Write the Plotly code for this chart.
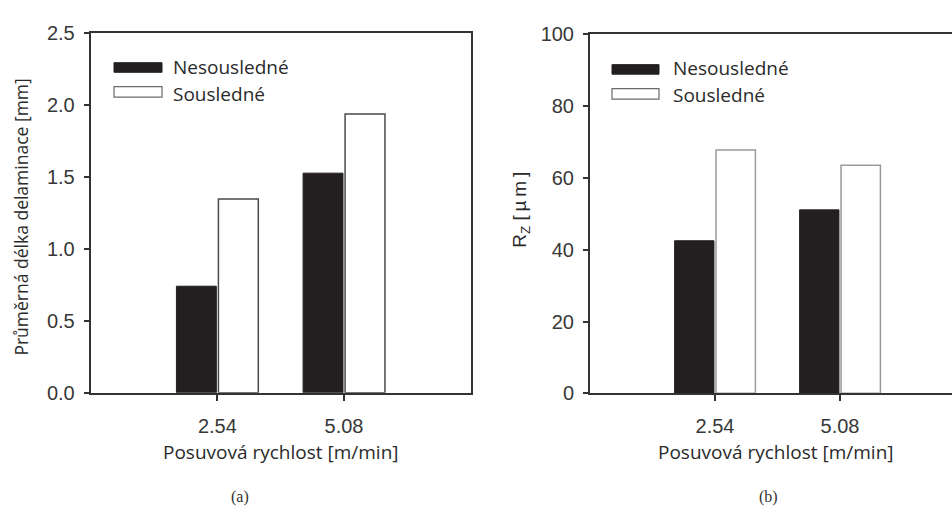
import plotly.graph_objects as go

# ---- data ----
speeds = ["2.54", "5.08"]
series_names = ["Nesousledné", "Sousledné"]
delam_nes = [0.74, 1.525]
delam_sous = [1.345, 1.935]
rz_nes = [42.5, 51.1]
rz_sous = [67.8, 63.5]
yticks_a = [0.0, 0.5, 1.0, 1.5, 2.0, 2.5]
yticks_b = [0, 20, 40, 60, 80, 100]

W, H = 952, 519
def px(x): return x / W
def py(y): return 1 - y / H

DARK = "#231f20"
AX = "#333333"
TICKFONT = dict(family="Liberation Sans, Arial, sans-serif", size=20, color="#383838")
TXTFONT = dict(family="Open Sans, Noto Sans, sans-serif", size=19, color="#2a2a2a")
YTFONT = dict(family="Open Sans, Noto Sans, sans-serif", size=17.5, color="#2a2a2a")

fig = go.Figure()
fig.add_trace(go.Bar(x=speeds, y=delam_nes, name=series_names[0], xaxis="x", yaxis="y",
                     marker=dict(color=DARK, line=dict(color=DARK, width=1)), showlegend=False))
fig.add_trace(go.Bar(x=speeds, y=delam_sous, name=series_names[1], xaxis="x", yaxis="y",
                     marker=dict(color="white", line=dict(color="#4a4a4a", width=1.5)), showlegend=False))
fig.add_trace(go.Bar(x=speeds, y=rz_nes, name=series_names[0], xaxis="x2", yaxis="y2",
                     marker=dict(color=DARK, line=dict(color=DARK, width=1)), showlegend=False))
fig.add_trace(go.Bar(x=speeds, y=rz_sous, name=series_names[1], xaxis="x2", yaxis="y2",
                     marker=dict(color="white", line=dict(color="#9a9a9a", width=1.5)), showlegend=False))

common_x = dict(type="category", showline=True, linecolor=AX, linewidth=2, mirror=True,
                ticks="outside", ticklen=6, tickcolor=AX, tickwidth=1.5,
                tickfont=TICKFONT, showgrid=False, zeroline=False, ticklabelstandoff=8)
common_y = dict(showline=True, linecolor=AX, linewidth=2,
                ticks="outside", ticklen=5, tickcolor=AX, tickwidth=1.5,
                tickfont=TICKFONT, showgrid=False, zeroline=False, ticklabelstandoff=5)

fig.update_layout(
    width=W, height=H,
    margin=dict(l=0, r=0, t=0, b=0),
    paper_bgcolor="white", plot_bgcolor="white",
    barmode="group", bargap=0.337, bargroupgap=0.05,
    xaxis=dict(common_x, domain=[px(90.7), px(470.7)], range=[-1, 2], anchor="y"),
    yaxis=dict(common_y, domain=[py(398.7), py(22.7)], range=[0, 2.5], tickvals=yticks_a,
               ticktext=[f"{v:.1f}" for v in yticks_a], mirror=True, anchor="x"),
    xaxis2=dict(common_x, domain=[px(590), 1.0], range=[-1, 1.896], anchor="y2"),
    yaxis2=dict(common_y, domain=[py(399.3), py(24.3)], range=[0, 100], tickvals=yticks_b,
                mirror=False, anchor="x2"),
)

shapes = []
annotations = []

def legend(x0, x1, yb, yw, tx, tyb, tyw):
    shapes.append(dict(type="rect", xref="paper", yref="paper", x0=px(x0), x1=px(x1),
                       y0=py(yb[1]), y1=py(yb[0]), fillcolor=DARK, line=dict(color=DARK, width=1)))
    shapes.append(dict(type="rect", xref="paper", yref="paper", x0=px(x0), x1=px(x1),
                       y0=py(yw[1]), y1=py(yw[0]), fillcolor="white", line=dict(color="#6a6a6a", width=1.2)))
    annotations.append(dict(text=series_names[0], xref="paper", yref="paper", x=px(tx), y=py(tyb),
                            xanchor="left", yanchor="middle", showarrow=False, font=TXTFONT))
    annotations.append(dict(text=series_names[1], xref="paper", yref="paper", x=px(tx), y=py(tyw),
                            xanchor="left", yanchor="middle", showarrow=False, font=TXTFONT))

legend(114, 162, (54, 64), (79, 90), 171, 58, 87)
legend(612, 659, (56, 66), (81, 92), 671, 60, 88)

# axis titles
annotations.append(dict(text="Průměrná délka delaminace [mm]", xref="paper", yref="paper",
                        x=px(20.7), y=py(215), textangle=-90, showarrow=False,
                        xanchor="center", yanchor="middle", font=YTFONT))
annotations.append(dict(text="R<sub>Z</sub> [\u2009µ\u2009m\u2009]", xref="paper", yref="paper",
                        x=px(521), y=py(207.5), textangle=-90, showarrow=False,
                        xanchor="center", yanchor="middle",
                        font=dict(family="Liberation Sans, Arial, sans-serif", size=19, color="#2a2a2a")))
annotations.append(dict(text="Posuvová rychlost [m/min]", xref="paper", yref="paper",
                        x=px(281), y=py(461), showarrow=False,
                        xanchor="center", yanchor="middle", font=TXTFONT))
annotations.append(dict(text="Posuvová rychlost [m/min]", xref="paper", yref="paper",
                        x=px(776), y=py(460), showarrow=False,
                        xanchor="center", yanchor="middle", font=TXTFONT))
# captions
cap_font = dict(family="Liberation Serif, DejaVu Serif, serif", size=16, color="#333333")
annotations.append(dict(text="(a)", xref="paper", yref="paper", x=px(240), y=py(507),
                        showarrow=False, xanchor="center", yanchor="middle", font=cap_font))
annotations.append(dict(text="(b)", xref="paper", yref="paper", x=px(768), y=py(508),
                        showarrow=False, xanchor="center", yanchor="middle", font=cap_font))

fig.update_layout(shapes=shapes, annotations=annotations)
fig.write_html("out.html")
